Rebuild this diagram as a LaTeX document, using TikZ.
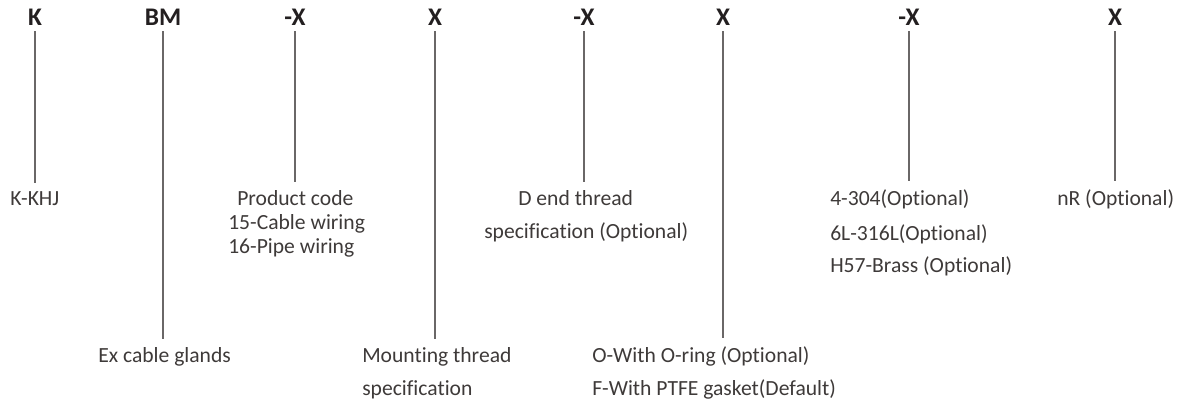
\documentclass[tikz,border=0pt]{standalone}
\usepackage{fontspec}
\setmainfont{Carlito}[Ligatures=NoCommon]
\definecolor{codeink}{HTML}{231F20}
\definecolor{descink}{HTML}{3E3A39}
\definecolor{leadink}{HTML}{6A6767}
\begin{document}
\begin{tikzpicture}[x=0.75pt,y=-0.75pt,
        code/.style={font=\fontsize{19}{23}\selectfont\bfseries,text=codeink,inner sep=0pt,anchor=base},
        desc/.style={font=\fontsize{16.2}{19}\selectfont,text=descink,inner sep=0pt,anchor=base west},
        lead/.style={draw=leadink,line width=0.8pt,shorten <=3.75pt,shorten >=6pt}]
                \useasboundingbox (0,0) rectangle (1179,403);

                \node[code] (hK) at(35,26) {K};
                \node[code] (hBM) at(163,26) {BM};
                \node[code] (hXa) at(295,26) {-X};
                \node[code] (hXb) at(435,26) {X};
                \node[code] (hXc) at(584,26) {-X};
                \node[code] (hXd) at(723,26) {X};
                \node[code] (hXe) at(909,26) {-X};
                \node[code] (hXf) at(1115,26) {X};

                \node[desc] (kkhj) at(10,205) {K-KHJ};

                \node[desc] (prodcode) at(237,205) {Product code};
                \node[desc] (cable) at(228,229) {15-Cable wiring};
                \node[desc] (pipe) at(228,253) {16-Pipe wiring};

                \node[desc] (dend) at(518,205) {D end thread};
                \node[desc] (dspec) at(484,238) {specification (Optional)};

                \node[desc] (ss304) at(830,205) {4-304(Optional)};
                \node[desc] (ss316) at(830,240) {6L-316L(Optional)};
                \node[desc] (brass) at(830,272) {H57-Brass (Optional)};

                \node[desc] (nr) at(1057,205) {nR (Optional)};

                \node[desc] (glands) at(98,362) {Ex cable glands};

                \node[desc] (mount) at(362,362) {Mounting thread};
                \node[desc] (mspec) at(362,395) {specification};

                \node[desc] (oring) at(592,362) {O-With O-ring (Optional)};
                \node[desc] (ptfe) at(592,395) {F-With PTFE gasket(Default)};

                \draw[lead] (hK.south) -- (hK.south |- kkhj.north);
                \draw[lead] (hBM.south) -- (hBM.south |- glands.north);
                \draw[lead] (hXa.south) -- (hXa.south |- prodcode.north);
                \draw[lead] (hXb.south) -- (hXb.south |- mount.north);
                \draw[lead] (hXc.south) -- (hXc.south |- dend.north);
                \draw[lead] (hXd.south) -- (hXd.south |- oring.north);
                \draw[lead] (hXe.south) -- (hXe.south |- ss304.north);
                \draw[lead] (hXf.south) -- (hXf.south |- nr.north);
            \end{tikzpicture}
\end{document}
